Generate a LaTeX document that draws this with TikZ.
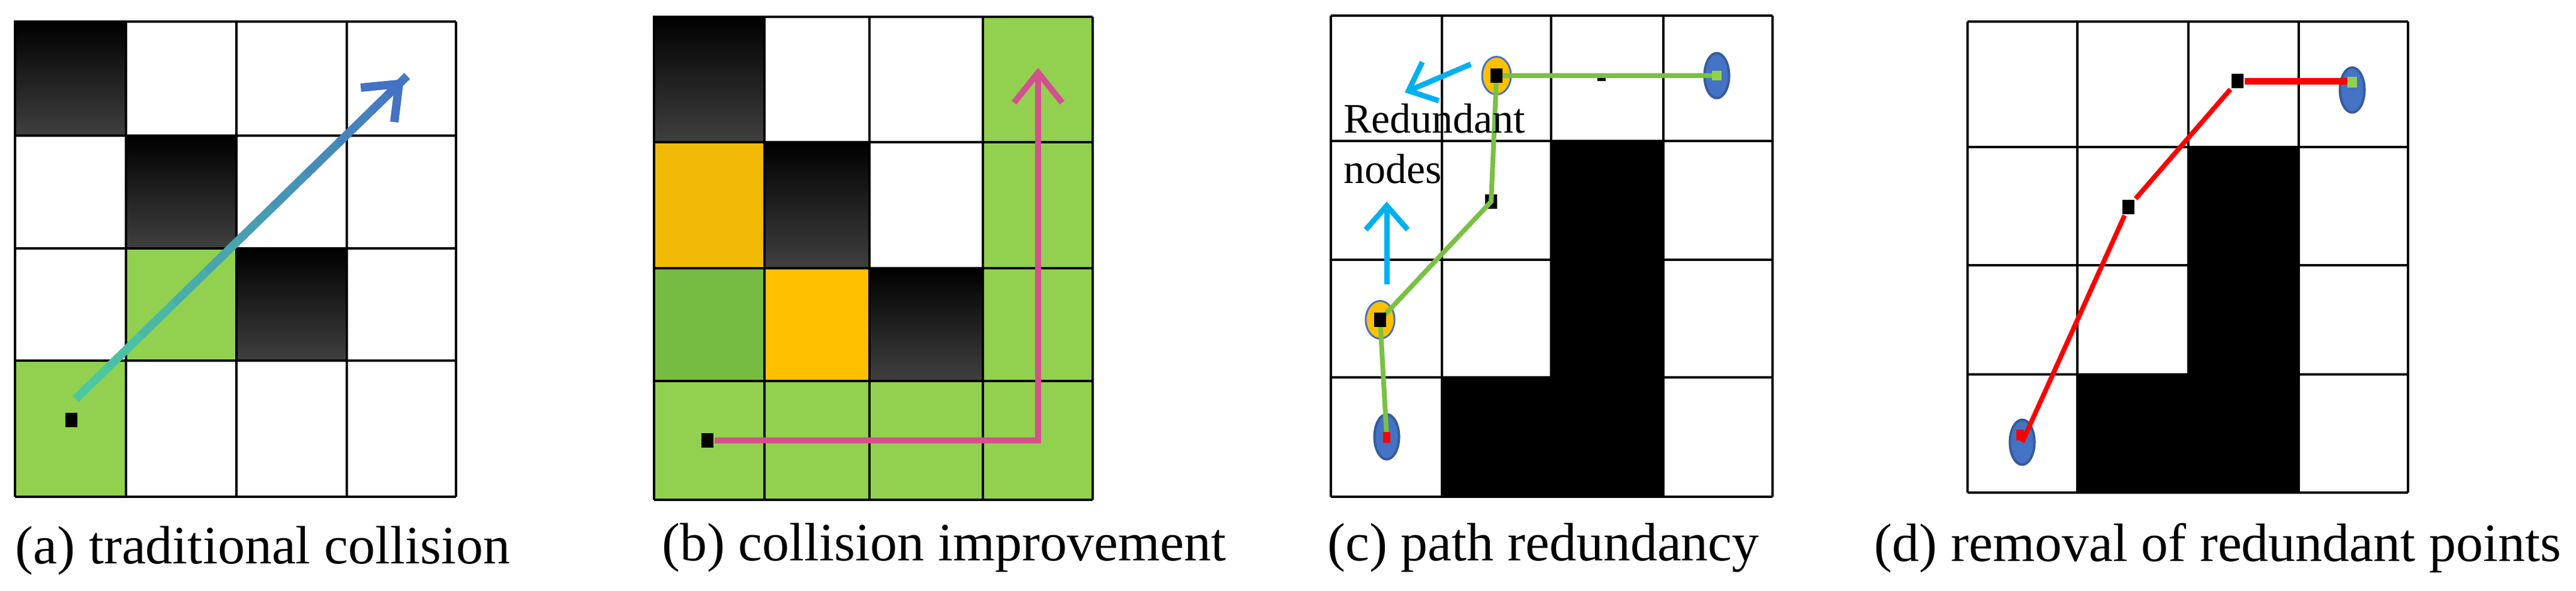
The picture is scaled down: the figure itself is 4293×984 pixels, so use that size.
\documentclass[tikz,border=0pt]{standalone}
\usepackage{fontspec}
\setmainfont{Liberation Serif}
\usetikzlibrary{arrows.meta,calc,shapes.geometric}
\definecolor{gridgreen}{RGB}{146,208,80}
\definecolor{darkgreen}{RGB}{118,188,67}
\definecolor{pathgreen}{RGB}{122,193,67}
\definecolor{amber}{RGB}{240,186,6}
\definecolor{gold}{RGB}{255,192,0}
\definecolor{nodeblue}{RGB}{68,114,196}
\definecolor{skyblue}{RGB}{0,176,240}
\definecolor{pathpink}{RGB}{212,80,143}
\definecolor{teal}{RGB}{75,200,160}
\tikzset{
  cellline/.style={line width=0.4pt},
  obstacle/.style={top color=black, bottom color=black!75, draw=black, line width=0.4pt},
  pt/.style={fill=black, inner sep=0pt, minimum width=2pt, minimum height=2.4pt},
  endpt/.style={ellipse, fill=nodeblue, draw=nodeblue!80!black, inner sep=0pt, minimum width=4.1pt, minimum height=7.5pt},
  midpt/.style={ellipse, fill=gold, draw=nodeblue, line width=0.3pt, inner sep=0pt, minimum width=4.8pt, minimum height=6.3pt},
  caption/.style={font=\fontsize{9}{10}\selectfont, anchor=center},
  note/.style={font=\fontsize{7}{8}\selectfont, anchor=west, inner sep=0pt}
}
\begin{document}
\begin{tikzpicture}[x=0.1pt,y=0.1pt,yscale=-1]
\useasboundingbox (0,0) rectangle (4293,984);

% panel (a)
\fill[gridgreen] (210,414) rectangle (394,601);
\fill[gridgreen] (25,601) rectangle (210,828);
\shade[obstacle] (25,36) rectangle (210,226);
\shade[obstacle] (210,226) rectangle (394,414);
\shade[obstacle] (394,414) rectangle (578,601);
\foreach \x in {25,210,394,578,760} \draw[cellline] (\x,36) -- (\x,828);
\foreach \y in {36,226,414,601,828} \draw[cellline] (25,\y) -- (760,\y);
\node[pt] (astart) at (119,700) {};
\coordinate (afrom) at (126,665);
\coordinate (ato) at (673,132);
\foreach \i in {0,...,9}{
  \pgfmathsetmacro{\mix}{100-\i*10}
  \draw[line width=1.4pt, teal!\mix!nodeblue]
    ($(afrom)!\i/10!(ato)$) -- ($(afrom)!\i/10+0.11!(ato)$);
}
\draw[line width=1.4pt, nodeblue, -{Straight Barb[length=5pt,width=8pt]}] ($(afrom)!0.95!(ato)$) -- (ato);
\node[caption] (capa) at (438,918) {(a) traditional collision};

% panel (b)
\fill[gridgreen] (1638,28) rectangle (1821,635);
\fill[gridgreen] (1090,635) rectangle (1821,833);
\fill[amber] (1090,237) rectangle (1274,447);
\fill[darkgreen] (1090,447) rectangle (1274,635);
\fill[gold] (1274,447) rectangle (1449,635);
\shade[obstacle] (1090,28) rectangle (1274,237);
\shade[obstacle] (1274,237) rectangle (1449,447);
\shade[obstacle] (1449,447) rectangle (1638,635);
\foreach \x in {1090,1274,1449,1638,1821} \draw[cellline] (\x,28) -- (\x,833);
\foreach \y in {28,237,447,635,833} \draw[cellline] (1090,\y) -- (1821,\y);
\node[pt] (bstart) at (1179,734) {};
\coordinate (bturn) at (1730,734);
\coordinate (bgoal) at (1730,113);
\draw[line width=1pt, pathpink, -{Straight Barb[length=5pt,width=8pt]}] (bstart) -- (bturn) -- (bgoal);
\node[caption] (capb) at (1573,913) {(b) collision improvement};

% panel (c)
\fill (2585,235) rectangle (2772,828);
\fill (2403,629) rectangle (2772,828);
\foreach \x in {2218,2403,2585,2772,2954} \draw[cellline] (\x,26) -- (\x,828);
\foreach \y in {26,235,433,629,828} \draw[cellline] (2218,\y) -- (2954,\y);
\node[endpt] (cstart) at (2311,728) {};
\node[midpt] (cred1) at (2300,533) {};
\node[pt] (cturn) at (2485,336) {};
\node[midpt] (cred2) at (2494,126) {};
\node[endpt] (cgoal) at (2861,126) {};
\draw[line width=0.8pt, pathgreen] (cstart.center) -- (cred1.center) -- (cturn.center) -- (cred2.center) -- (cgoal.center);
\fill[red] (2305,720) rectangle (2317,738);
\node[pt] at (2300,533) {};
\node[pt] at (2494,126) {};
\fill[gridgreen] (2853,118) rectangle (2869,134);
\fill (2662,130) rectangle (2676,135);
\coordinate (carr1) at (2451,107);
\coordinate (carr2) at (2341,154);
\coordinate (carr3) at (2311,474);
\coordinate (carr4) at (2311,336);
\draw[line width=0.9pt, skyblue, -{Straight Barb[length=4pt,width=7pt]}] (carr1) -- (carr2);
\draw[line width=0.9pt, skyblue, -{Straight Barb[length=4pt,width=7pt]}] (carr3) -- (carr4);
\node[note] (cnote1) at (2237,198) {Redundant};
\node[note] (cnote2) at (2237,282) {nodes};
\node[caption] (capc) at (2572,913) {(c) path redundancy};

% panel (d)
\fill (3647,245) rectangle (3831,821);
\fill (3462,624) rectangle (3831,821);
\foreach \x in {3279,3462,3647,3831,4013} \draw[cellline] (\x,36) -- (\x,821);
\foreach \y in {36,245,442,624,821} \draw[cellline] (3279,\y) -- (4013,\y);
\node[endpt] (dstart) at (3370,737) {};
\node[pt] (dturn1) at (3547,345) {};
\node[pt] (dturn2) at (3729,135) {};
\node[endpt] (dgoal) at (3920,150) {};
\draw[line width=0.8pt, red] (dstart.center) -- (dturn1) -- (dturn2);
\draw[line width=1.1pt, red] (dturn2) -- (3916,135);
\node[pt] at (3547,345) {};
\node[pt] at (3729,135) {};
\fill[red] (3360,716) rectangle (3373,734);
\fill[gridgreen] (3912,128) rectangle (3928,146);
\node[caption] (capd) at (3696,913) {(d) removal of redundant points};
\end{tikzpicture}
\end{document}
